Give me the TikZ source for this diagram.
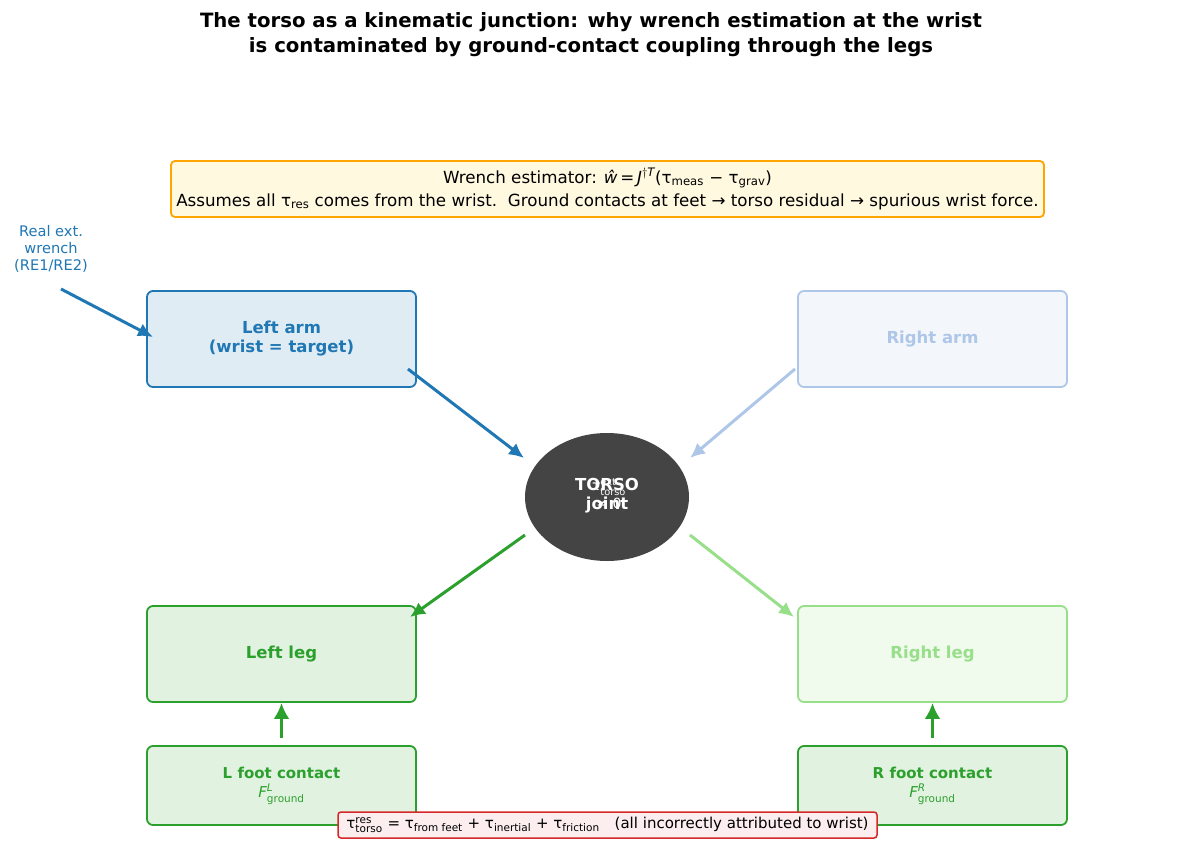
\documentclass[tikz,border=0pt]{standalone}
\usepackage{fontspec}
\usepackage{amsmath}
\setmainfont{DejaVu Sans}
\usetikzlibrary{arrows.meta,shapes.geometric}
\definecolor{cblue}{HTML}{1F77B4}
\definecolor{cblueL}{HTML}{AEC7E8}
\definecolor{cgreen}{HTML}{2CA02C}
\definecolor{cgreenL}{HTML}{98DF8A}
\definecolor{cred}{HTML}{D62728}
\definecolor{corange}{HTML}{FFA500}
\definecolor{cyel}{HTML}{FFF9E0}
\definecolor{cdark}{HTML}{444444}
\newcommand{\tu}{τ}
\newcommand{\sbs}[1]{$_{\text{#1}}$}
\newcommand{\sps}[2]{$^{\text{#1}}_{\text{#2}}$}
\tikzset{
  partbox/.style={draw, rounded corners=6pt, line width=1.8pt, minimum width=269pt, minimum height=96pt, align=center, font=\fontsize{16.5}{19}\selectfont\bfseries},
  footbox/.style={partbox, minimum height=79pt, font=\fontsize{15}{20}\selectfont\bfseries},
  conn/.style={line width=3pt, -{Latex[length=15pt,width=14pt]}},
  upconn/.style={line width=3.6pt, -{Latex[length=16pt,width=16pt]}},
}
\begin{document}
\begin{tikzpicture}[x=1pt,y=-1pt]
\useasboundingbox (0,0) rectangle (1184,863);
\node[font=\fontsize{19.7}{25}\selectfont\bfseries, align=center] (title) at (591,35)
  {The torso as a kinematic junction: why wrench estimation at the wrist\\is contaminated by ground-contact coupling through the legs};

\node[draw=corange, fill=cyel, rounded corners=4pt, line width=1.8pt, minimum width=873pt, minimum height=56pt, align=center, font=\fontsize{16.7}{23}\selectfont] (est) at (607.5,189)
  {Wrench estimator: {\itshape\^{w}}\,=\,{\itshape J}$^{\dagger\textit{T}}$(\tu\sbs{meas} − \tu\sbs{grav})\\
   Assumes all \tu\sbs{res} comes from the wrist.\ \ Ground contacts at feet → torso residual → spurious wrist force.};

\node[partbox, draw=cblue, fill=cblue!14, text=cblue] (larm) at (281.5,339) {Left arm\\(wrist = target)};
\node[partbox, draw=cblueL, fill=cblueL!15, text=cblueL] (rarm) at (932.5,339) {Right arm};
\node[partbox, draw=cgreen, fill=cgreen!14, text=cgreen] (lleg) at (281.5,654) {Left leg};
\node[partbox, draw=cgreenL, fill=cgreenL!15, text=cgreenL] (rleg) at (932.5,654) {Right leg};
\node[footbox, draw=cgreen, fill=cgreen!14, text=cgreen] (lfoot) at (281.5,785.5) {L foot contact\\[-1pt]\mdseries{\itshape F}\sps{\itshape L}{ground}};
\node[footbox, draw=cgreen, fill=cgreen!14, text=cgreen] (rfoot) at (932.5,785.5) {R foot contact\\[-1pt]\mdseries{\itshape F}\sps{\itshape R}{ground}};

\node[ellipse, fill=cdark, minimum width=164pt, minimum height=128pt, inner sep=0pt] (torso) at (607,497) {};
\node[text=white, font=\fontsize{16.5}{19}\selectfont\bfseries, align=center] (tlab) at (607,496) {TORSO\\joint};
\node[text=white, font=\fontsize{14}{18}\selectfont, align=center] (tover) at (609,494) {\tu\sps{ext}{torso}\\≠ 0};

\node[text=cblue, font=\fontsize{14.6}{17}\selectfont, align=center] (real) at (51,249) {Real ext.\\wrench\\(RE1/RE2)};

\coordinate (r0) at (61,289);
\coordinate (r1) at (153,337);
\coordinate (la0) at (408,369);
\coordinate (la1) at (524,458);
\coordinate (ra0) at (795,369);
\coordinate (ra1) at (690,458);
\coordinate (tl0) at (525,535);
\coordinate (tl1) at (410,617);
\coordinate (tr0) at (690,535);
\coordinate (tr1) at (794,617);
\coordinate (lf0) at ([yshift=7pt]lfoot.north);
\coordinate (rf0) at ([yshift=7pt]rfoot.north);

\draw[conn, cblue] (r0) -- (r1);
\draw[conn, cblue] (la0) -- (la1);
\draw[conn, cblueL] (ra0) -- (ra1);
\draw[conn, cgreen] (tl0) -- (tl1);
\draw[conn, cgreenL] (tr0) -- (tr1);
\draw[upconn, cgreen] (lf0) -- (lleg.south);
\draw[upconn, cgreen] (rf0) -- (rleg.south);

\node[draw=cred, fill=cred!8, rounded corners=3pt, line width=1.5pt, minimum width=539pt, minimum height=26pt, inner sep=1pt, font=\fontsize{15}{17}\selectfont] (formula) at (607.5,825)
  {\tu\sps{res}{torso} = \tu\sbs{from feet} + \tu\sbs{inertial} + \tu\sbs{friction}\quad(all incorrectly attributed to wrist)};
\end{tikzpicture}
\end{document}
